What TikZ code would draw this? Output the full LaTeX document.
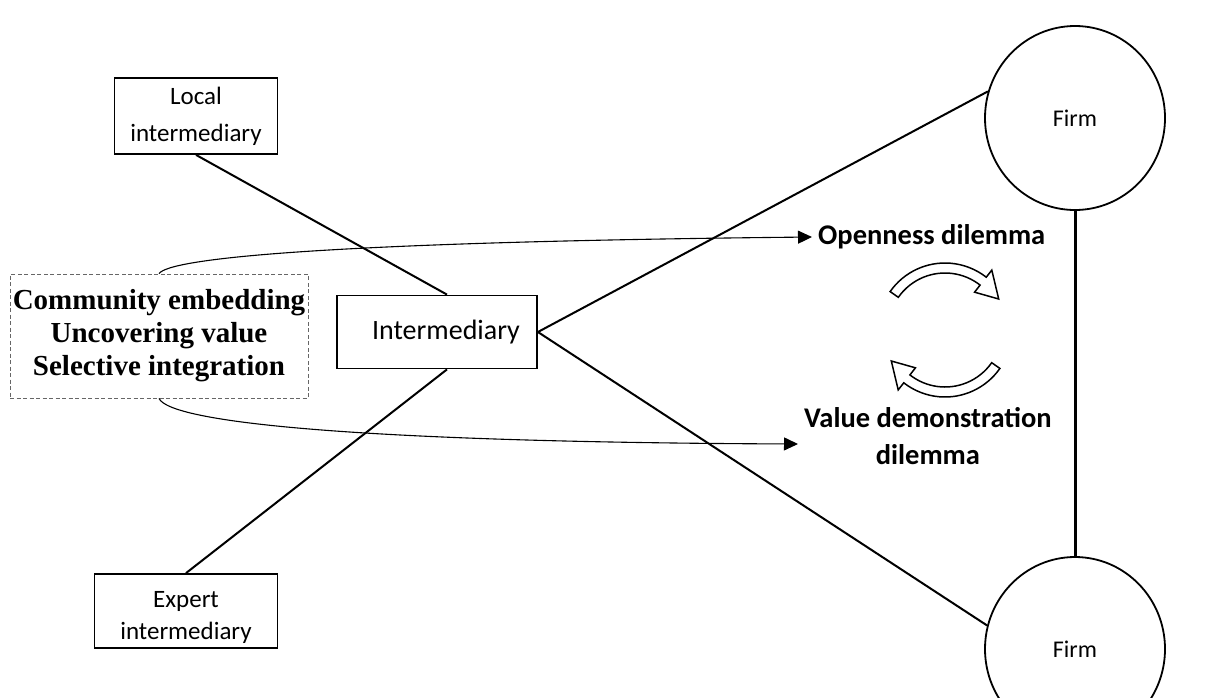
\documentclass[tikz,border=0pt]{standalone}
\usepackage{fontspec}
\setmainfont{Carlito}
\newfontfamily\timesfont{Liberation Serif}
\usepackage{tikz}
\usetikzlibrary{shapes.geometric,arrows.meta}

\begin{document}
\begin{tikzpicture}[x=1pt,y=-1pt,
	box/.style={draw,line width=1.8pt,align=center,inner sep=0pt,font=\fontsize{25}{37}\selectfont},
	firm/.style={draw,ellipse,line width=1.8pt,inner sep=0pt,minimum width=180pt,minimum height=184pt,font=\fontsize{24}{30}\selectfont},
	dilemma/.style={align=center,font=\bfseries\fontsize{28.5}{37}\selectfont},
	link/.style={line width=2pt},
	pull/.style={line width=1.1pt,-{Triangle[length=14pt,width=13pt]}},
	cycle arrow/.style={line width=1.5pt,fill=white,line join=miter}]
	\useasboundingbox (0,0) rectangle (1223,697);

	%BOXES
	\node[box,minimum width=163pt,minimum height=76pt] (local) at (196,116) {Local\\intermediary};
	\node[box,minimum width=200pt,minimum height=73pt,font=\fontsize{28}{34}\selectfont] (inter) at (437,332) {\hspace*{18pt}Intermediary};
	\node[box,minimum width=183pt,minimum height=74pt,font=\fontsize{25}{32}\selectfont] (expert) at (186,611) {\rule{0pt}{30pt}Expert\\intermediary};
	\node[draw,dashed,dash pattern=on 4pt off 2.5pt,line width=0.8pt,draw=black!60,align=center,inner sep=0pt,
		minimum width=298pt,minimum height=124pt,font=\timesfont\bfseries\fontsize{29}{33}\selectfont] (mech) at (159,336)
		{Community embedding\\Uncovering value\\Selective integration};

	%FIRMS
	\node[firm] (firmA) at (1075,118) {Firm};
	\node[firm] (firmB) at (1075,649) {Firm};

	%DILEMMAS
	\node[dilemma,anchor=west,inner sep=6pt] (open) at (812,237) {Openness dilemma};
	\node[dilemma,anchor=west,inner sep=6pt] (value) at (798,436) {Value demonstration\\dilemma};

	%TRIANGLE LINES
	\draw[link] (local.south) -- ([xshift=10pt]inter.north);
	\draw[link] (expert.north) -- ([xshift=10pt]inter.south);
	\draw[link] (inter.east) -- (firmA.163);
	\draw[link] (inter.east) -- (firmB.165);
	\draw[line width=3pt] (firmA.south) -- (firmB.north);

	%CURVED ARROWS
	\draw[pull] (mech.north) .. controls (170,258) and (330,242) .. (open.west);
	\draw[pull] (mech.south) .. controls (170,422) and (350,442) .. ([yshift=-8pt]value.west);

	%CYCLE
	\foreach \turn in {0,180}
		\draw[cycle arrow,shift={(945,330)},rotate=\turn] (-145:67) arc[start angle=-145,end angle=-52,radius=67]
			-- (-52:76) -- (-30:62) -- (-52:48) -- (-52:57) arc[start angle=-52,end angle=-145,radius=57] -- cycle;
\end{tikzpicture}
\end{document}
